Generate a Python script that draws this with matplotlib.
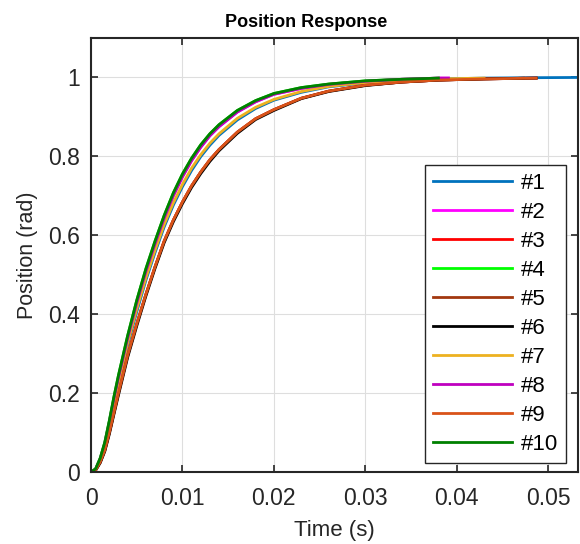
import matplotlib.pyplot as plt
from matplotlib.ticker import FuncFormatter

plt.rcParams['font.family'] = ['Liberation Sans', 'DejaVu Sans']

# time grid (s) shared by the curves
t = [0, 0.0005, 0.001, 0.0015, 0.002, 0.0025, 0.003, 0.004, 0.005, 0.006,
     0.007, 0.008, 0.009, 0.010, 0.011, 0.012, 0.013, 0.014, 0.016, 0.018,
     0.020, 0.023, 0.026, 0.030, 0.034, 0.038]

fast = [0, 0.008, 0.035, 0.075, 0.130, 0.190, 0.245, 0.345, 0.435, 0.515,
        0.585, 0.650, 0.707, 0.755, 0.795, 0.829, 0.857, 0.880, 0.916, 0.941,
        0.959, 0.974, 0.983, 0.991, 0.995, 0.998]
fast_b = [0, 0.007, 0.033, 0.072, 0.126, 0.185, 0.239, 0.338, 0.428, 0.508,
          0.578, 0.643, 0.700, 0.748, 0.789, 0.823, 0.852, 0.875, 0.912, 0.938,
          0.957, 0.972, 0.982, 0.990, 0.995, 0.998]
mid = [0, 0.007, 0.031, 0.068, 0.119, 0.175, 0.229, 0.327, 0.413, 0.492,
       0.562, 0.627, 0.682, 0.729, 0.770, 0.804, 0.833, 0.857, 0.896, 0.924,
       0.944, 0.964, 0.977, 0.987, 0.992, 0.996]
mid_b = [0, 0.006, 0.030, 0.066, 0.116, 0.171, 0.224, 0.321, 0.406, 0.486,
         0.556, 0.621, 0.676, 0.723, 0.764, 0.799, 0.828, 0.853, 0.892, 0.921,
         0.942, 0.962, 0.976, 0.986, 0.992, 0.996]
slow = [0, 0.005, 0.025, 0.055, 0.100, 0.150, 0.200, 0.295, 0.375, 0.450,
        0.520, 0.585, 0.638, 0.684, 0.725, 0.760, 0.791, 0.817, 0.861, 0.895,
        0.918, 0.947, 0.965, 0.980, 0.988, 0.993]
slow_b = [0, 0.004, 0.023, 0.052, 0.096, 0.146, 0.195, 0.290, 0.370, 0.446,
          0.516, 0.581, 0.634, 0.680, 0.721, 0.756, 0.787, 0.814, 0.858, 0.893,
          0.916, 0.946, 0.964, 0.979, 0.988, 0.993]

# tails: extra (time, value) points after the shared grid
tail_none = ([], [])
tail_mag = ([0.0391], [0.998])
tail_mid = ([0.043], [0.998])
tail_blue = ([0.043, 0.048, 0.056], [0.998, 0.999, 1.0])
tail_slow = ([0.043, 0.0487], [0.996, 0.998])
tail_brown = ([0.043, 0.0473], [0.996, 0.998])

labels = ['#1', '#2', '#3', '#4', '#5', '#6', '#7', '#8', '#9', '#10']
series = [mid_b, fast_b, slow, fast, slow, slow_b, mid, fast_b, slow, fast]
tails = [tail_blue, tail_mag, tail_slow, tail_none, tail_brown, tail_slow,
         tail_mid, tail_mag, tail_slow, tail_none]
colors = ['#0072BD', '#FF00FF', '#FF0000', '#00FF00', '#A2380F', '#000000',
          '#EDB120', '#BF00BF', '#D95319', '#008000']

fig = plt.figure(figsize=(5.8, 5.44), dpi=100)
ax = fig.add_axes([0.157, 0.1324, 0.84, 0.798])

for y, (tt, ty), c, lab in zip(series, tails, colors, labels):
    ax.plot(t + tt, y + ty, color=c, lw=2, label=lab)

ax.set_xlim(0, 0.0533)
ax.set_ylim(0, 1.1)
ax.set_xticks([0, 0.01, 0.02, 0.03, 0.04, 0.05])
ax.set_yticks([0, 0.2, 0.4, 0.6, 0.8, 1.0])
fmt = FuncFormatter(lambda v, p: '0' if v == 0 else f'{v:g}')
ax.xaxis.set_major_formatter(fmt)
ax.yaxis.set_major_formatter(fmt)
ax.grid(True, color='#dedede', lw=0.8)
ax.tick_params(direction='in', top=True, right=True, labelsize=16.5,
               colors='#262626', width=1.2, length=5)
ax.tick_params(axis='x', pad=11)
ax.tick_params(axis='y', pad=8)
for s in ax.spines.values():
    s.set_color('#262626')
    s.set_linewidth(1.5)

ax.set_xlabel('Time (s)', fontsize=16, color='#262626', labelpad=7)
ax.set_ylabel('Position (rad)', fontsize=15.5, color='#262626', labelpad=7)
ax.set_title('Position Response', fontsize=13, fontweight='bold', pad=8,
             x=0.441)

leg = ax.legend(loc='lower right', bbox_to_anchor=(0.975, 0.021),
                borderaxespad=0, fontsize=16, handlelength=3.55,
                handletextpad=0.4, labelspacing=0.36, borderpad=0.35,
                fancybox=False, framealpha=1, edgecolor='#262626')
leg.get_frame().set_linewidth(1.0)

fig.savefig('out.png', dpi=100)
